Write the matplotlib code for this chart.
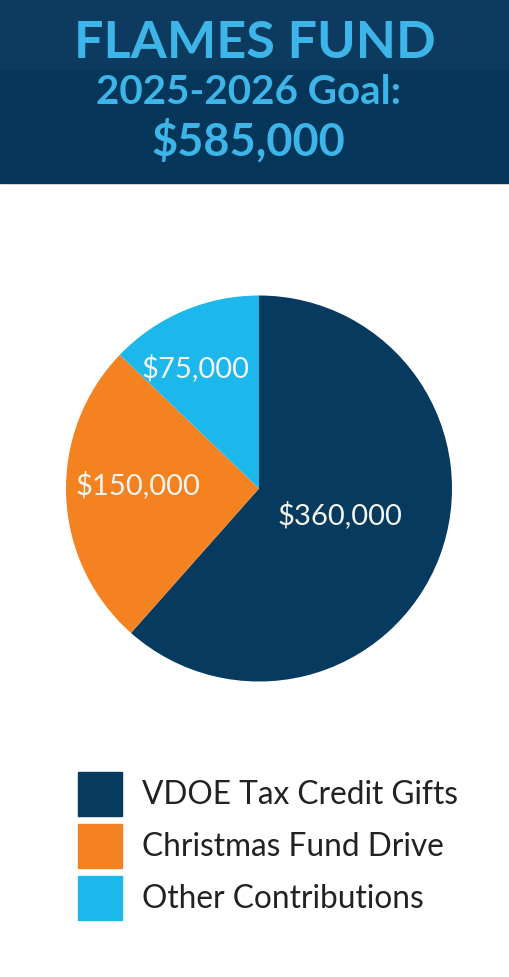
import matplotlib.pyplot as plt
from matplotlib.patches import Rectangle
import numpy as np

# data
categories = ["VDOE Tax Credit Gifts", "Christmas Fund Drive", "Other Contributions"]
amounts = [360000, 150000, 75000]
slice_labels = ["$360,000", "$150,000", "$75,000"]
colors = ["#063a5e", "#f58220", "#1cb8ec"]

W, H = 509, 978
fig = plt.figure(figsize=(W / 100, H / 100), dpi=100)
fig.patch.set_facecolor("white")

# header band (top half a touch lighter, like the reference)
fig.patches.append(Rectangle((0, 1 - 72 / H), 1, 72 / H, transform=fig.transFigure,
                             color="#0d3b5f", zorder=0))
fig.patches.append(Rectangle((0, 1 - 184 / H), 1, 112 / H, transform=fig.transFigure,
                             color="#063659", zorder=0))

title_col = "#3db5e8"
fig.text(255 / W, 1 - 43 / H, "FLAMES FUND", family="Lato", weight="bold",
         fontsize=37.5, color=title_col, ha="center", va="center")
fig.text(248 / W, 1 - 93 / H, "2025-2026 Goal:", family="Lato", weight="bold",
         fontsize=29, color=title_col, ha="center", va="center")
fig.text(248 / W, 1 - 141 / H, "$585,000", family="Lato", weight="bold",
         fontsize=32.5, color=title_col, ha="center", va="center")

# pie
cx, cy, r = 259, 489.5, 193
ax = fig.add_axes([(cx - r) / W, (H - cy - r) / H, 2 * r / W, 2 * r / H])
wedges, _ = ax.pie(amounts, colors=colors, startangle=90, counterclock=False,
                   radius=1, wedgeprops=dict(linewidth=0))
ax.set_xlim(-1, 1)
ax.set_ylim(-1, 1)
ax.set_aspect("equal")
ax.axis("off")

label_r = [0.44, 0.63, 0.71]
label_shift = [3.5, -4.5, 4.5]
for w, lab, lr, sh in zip(wedges, slice_labels, label_r, label_shift):
    ang = np.deg2rad((w.theta1 + w.theta2) / 2 + sh)
    ax.text(lr * np.cos(ang), lr * np.sin(ang), lab, family="Lato", fontsize=21,
            color="#f4f4ee", ha="center", va="center")

# legend
for i, (cat, col) in enumerate(zip(categories, colors)):
    top = 773 + i * 52
    fig.patches.append(Rectangle((78 / W, 1 - (top + 44) / H), 44 / W, 44 / H,
                                 transform=fig.transFigure, color=col))
    fig.text(142 / W, 1 - (top + 22) / H, cat, family="Lato", fontsize=22.8,
             color="#222222", ha="left", va="center")

fig.savefig("out.png", dpi=100)
